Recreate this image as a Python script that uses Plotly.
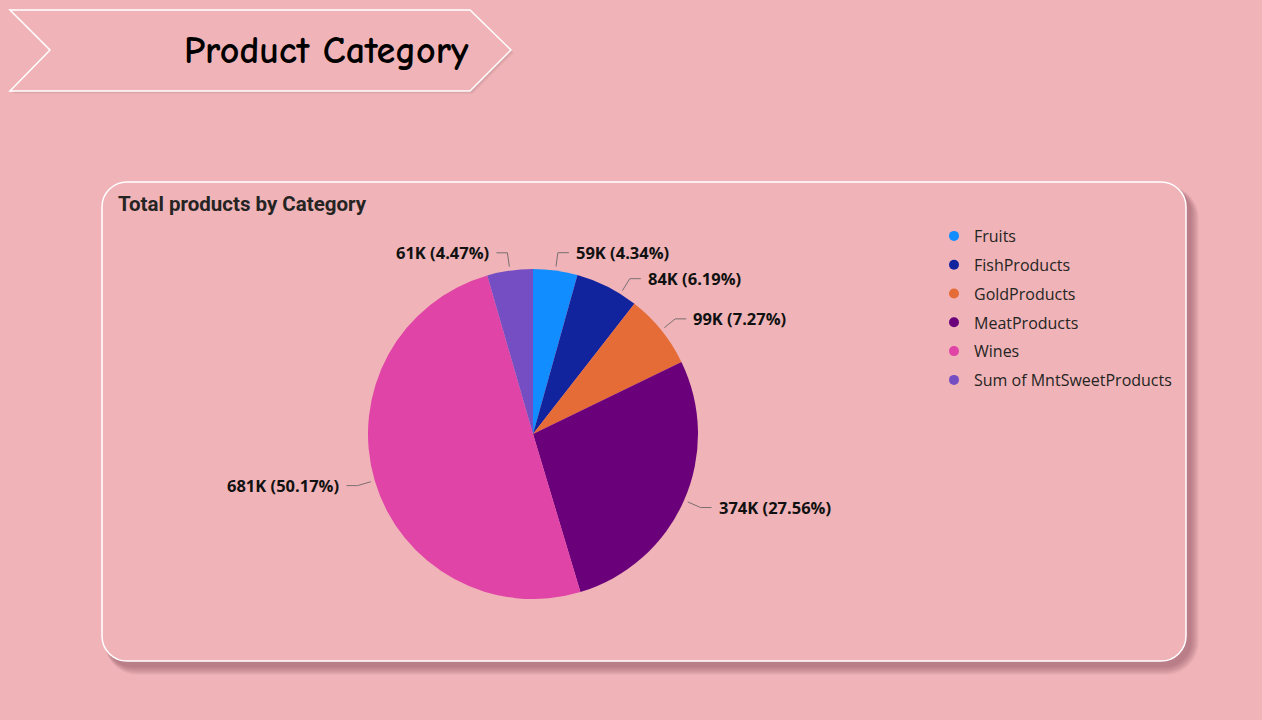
import math
import plotly.graph_objects as go

W, H = 1262, 720

# ---- data ----
categories = ["Fruits", "FishProducts", "GoldProducts", "MeatProducts", "Wines", "Sum of MntSweetProducts"]
values = [58917, 84057, 98609, 373968, 680816, 60621]
colors = ["#118DFF", "#12239E", "#E66C37", "#6B007B", "#E044A7", "#744EC2"]
page_title = "Product Category"
card_title = "Total products by Category"

BG = "#F0B4B8"
TXT = "#252423"

# ---- geometry (pixels) ----
CX, CY, R = 533, 434, 165
R_START, R_ELBOW = R + 4, R + 18
SEG, GAP, MIN_DY = 11, 5, 26


def rounded_rect(x0, y0, x1, y1, r):
    k = 0.4477 * r
    return (f"M{x0+r},{y0} L{x1-r},{y0} C{x1-k},{y0} {x1},{y0+k} {x1},{y0+r} "
            f"L{x1},{y1-r} C{x1},{y1-k} {x1-k},{y1} {x1-r},{y1} "
            f"L{x0+r},{y1} C{x0+k},{y1} {x0},{y1-k} {x0},{y1-r} "
            f"L{x0},{y0+r} C{x0},{y0+k} {x0+k},{y0} {x0+r},{y0} Z")


fig = go.Figure()

# pie
fig.add_trace(go.Pie(
    labels=categories, values=values, sort=False, direction="clockwise", rotation=0,
    marker=dict(colors=colors, line=dict(width=0)),
    textinfo="none", hoverinfo="label+value+percent", showlegend=False,
    domain=dict(x=[(CX - R) / W, (CX + R) / W], y=[1 - (CY + R) / H, 1 - (CY - R) / H]),
))

# legend entries
for i, (c, col) in enumerate(zip(categories, colors)):
    fig.add_trace(go.Scatter(x=[None], y=[None], mode="markers", name=c, legendgroup=str(i),
                             marker=dict(size=10, color=col, symbol="circle"), showlegend=True))

shapes = []
annotations = []

# background shapes: banner
for k, a in [(3, 0.06), (2, 0.08), (1, 0.10)]:
    shapes.append(dict(type="path", path="M{},{} L{},{} L{},{} L{},{} L{},{} L{},{} Z".format(
        10 + k, 10 + k, 470 + k, 10 + k, 511 + k, 50 + k, 470 + k, 91 + k, 10 + k, 91 + k, 50 + k, 50 + k),
        xref="x", yref="y", line=dict(width=0), fillcolor=f"rgba(120,60,70,{a})", layer="below"))
shapes.append(dict(type="path", path="M10,10 L470,10 L511,50 L470,91 L10,91 L50,50 Z", xref="x", yref="y",
                   line=dict(color="white", width=1.5), fillcolor=BG, layer="below"))

# card with shadow
for k in range(9, 0, -1):
    shapes.append(dict(type="path", path=rounded_rect(102 + 5 - k * 0.3, 182 + 6 - k * 0.3, 1186 + 4 + k, 661 + 5 + k, 25 + k),
                       xref="x", yref="y", line=dict(width=0), fillcolor="rgba(110,55,65,0.055)", layer="below"))
shapes.append(dict(type="path", path=rounded_rect(102, 182, 1186, 661, 25), xref="x", yref="y",
                   line=dict(color="white", width=1.5), fillcolor=BG, layer="below"))

# ---- labels with leader lines ----
total = sum(values)
cum = 0
items = []
for v in values:
    mid = (cum + v / 2) / total * 2 * math.pi
    cum += v
    ex = CX + R_ELBOW * math.sin(mid)
    ey = CY - R_ELBOW * math.cos(mid)
    items.append(dict(v=v, mid=mid, ex=ex, ey=ey, right=math.sin(mid) >= 0))

for side in (True, False):
    group = sorted([it for it in items if it["right"] == side], key=lambda d: d["ey"])
    prev = None
    for it in group:
        if prev is not None and it["ey"] < prev + MIN_DY:
            it["ey"] = prev + MIN_DY
            dy = it["ey"] - CY
            dx = math.sqrt(max(R_ELBOW ** 2 - dy ** 2, 0))
            it["ex"] = CX + (dx if side else -dx)
        prev = it["ey"]

for it in items:
    ang = math.atan2(it["ex"] - CX, -(it["ey"] - CY))
    sx = CX + R_START * math.sin(ang)
    sy = CY - R_START * math.cos(ang)
    d = 1 if it["right"] else -1
    hx = it["ex"] + d * SEG
    shapes.append(dict(type="path", path=f"M{sx},{sy} L{it['ex']},{it['ey']} L{hx},{it['ey']}",
                       xref="x", yref="y", line=dict(color="#7A6E70", width=1)))
    label = f"{round(it['v'] / 1000)}K ({it['v'] / total * 100:.2f}%)"
    annotations.append(dict(x=hx + d * GAP, y=it["ey"], xref="x", yref="y", text=label, showarrow=False,
                            xanchor="left" if it["right"] else "right", yanchor="middle",
                            font=dict(family="Open Sans", size=16.5, color="#111111", weight="bold")))

annotations.append(dict(x=326, y=51, xref="x", yref="y", text=page_title, showarrow=False,
                        xanchor="center", yanchor="middle",
                        font=dict(family="Comic Sans MS, Comic Neue, Lato", size=38, color="#000000", weight="bold")))
annotations.append(dict(x=116, y=204, xref="x", yref="y", text=card_title, showarrow=False,
                        xanchor="left", yanchor="middle",
                        font=dict(family="Roboto", size=20.5, color=TXT, weight="bold")))

fig.update_layout(
    width=W, height=H, autosize=False,
    margin=dict(l=0, r=0, t=0, b=0),
    paper_bgcolor=BG, plot_bgcolor="rgba(0,0,0,0)",
    xaxis=dict(range=[0, W], visible=False, fixedrange=True),
    yaxis=dict(range=[H, 0], visible=False, fixedrange=True),
    shapes=shapes, annotations=annotations,
    legend=dict(x=934 / W, y=1 - 219 / H, xanchor="left", yanchor="top",
                bgcolor="rgba(0,0,0,0)", tracegroupgap=5, itemclick=False,
                font=dict(family="Open Sans", size=16, color=TXT)),
)

fig.write_html("out.html")
